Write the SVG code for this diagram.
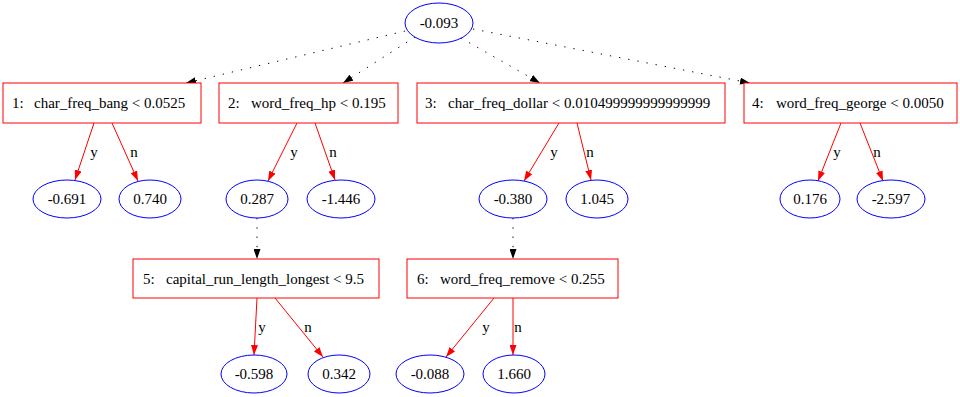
<svg xmlns="http://www.w3.org/2000/svg" width="960" height="397" viewBox="0 0 960 397">
<style>
text{font-family:"Liberation Serif","Times New Roman",serif;font-size:15px;fill:#000}
.box{fill:#fff;stroke:#ff0000;stroke-width:1}
.leaf{fill:#fff;stroke:#0000ff;stroke-width:1}
.c{text-anchor:middle}
.e{fill:none;stroke:#ff0000;stroke-width:1}
.d{fill:none;stroke:#000;stroke-width:1;stroke-dasharray:1.3,8}
</style>
<defs>
<marker id="ar" markerUnits="userSpaceOnUse" markerWidth="10" markerHeight="7" refX="10" refY="3.5" orient="auto"><path d="M0,0 L10,3.5 L0,7 z" fill="#ff0000"/></marker>
<marker id="ab" markerUnits="userSpaceOnUse" markerWidth="10" markerHeight="7" refX="10" refY="3.5" orient="auto"><path d="M0,0 L10,3.5 L0,7 z" fill="#000"/></marker>
</defs>
<rect width="960" height="397" fill="#fff"/>
<g id="connectors">
<line class="d" x1="405" y1="31" x2="186" y2="83" marker-end="url(#ab)"/>
<line class="d" x1="415" y1="37" x2="343" y2="83" marker-end="url(#ab)"/>
<line class="d" x1="461" y1="38" x2="540" y2="83" marker-end="url(#ab)"/>
<line class="d" x1="473" y1="29" x2="750" y2="83" marker-end="url(#ab)"/>
<line class="d" x1="257" y1="218" x2="257" y2="259" marker-end="url(#ab)"/>
<line class="d" x1="513" y1="218" x2="513" y2="259" marker-end="url(#ab)"/>
<line class="e" x1="94" y1="123" x2="75" y2="180" marker-end="url(#ar)"/>
<line class="e" x1="112" y1="123" x2="138" y2="181" marker-end="url(#ar)"/>
<line class="e" x1="297" y1="123" x2="268" y2="181" marker-end="url(#ar)"/>
<line class="e" x1="315" y1="123" x2="335" y2="180" marker-end="url(#ar)"/>
<line class="e" x1="559" y1="123" x2="524" y2="181" marker-end="url(#ar)"/>
<line class="e" x1="577" y1="123" x2="591" y2="180" marker-end="url(#ar)"/>
<line class="e" x1="841" y1="123" x2="818" y2="181" marker-end="url(#ar)"/>
<line class="e" x1="860" y1="123" x2="883" y2="181" marker-end="url(#ar)"/>
<line class="e" x1="257" y1="298" x2="254" y2="355" marker-end="url(#ar)"/>
<line class="e" x1="275" y1="298" x2="323" y2="357" marker-end="url(#ar)"/>
<line class="e" x1="494" y1="298" x2="446" y2="357" marker-end="url(#ar)"/>
<line class="e" x1="513" y1="298" x2="513" y2="355" marker-end="url(#ar)"/>
<text class="c" x="94" y="157">y</text>
<text class="c" x="134" y="157">n</text>
<text class="c" x="294" y="157">y</text>
<text class="c" x="333" y="157">n</text>
<text class="c" x="554" y="157">y</text>
<text class="c" x="590" y="157">n</text>
<text class="c" x="837" y="157">y</text>
<text class="c" x="877" y="157">n</text>
<text class="c" x="262" y="332">y</text>
<text class="c" x="308" y="332">n</text>
<text class="c" x="486" y="332">y</text>
<text class="c" x="518" y="332">n</text>
</g>
<g id="root"><ellipse class="leaf" cx="439" cy="23" rx="34" ry="20"/><text class="c" x="439" y="28">-0.093</text></g>
<g id="n1"><rect class="box" x="3" y="83" width="198" height="40"/><text x="12" y="108">1:<tspan x="34">char_freq_bang &lt; 0.0525</tspan></text></g>
<g id="n2"><rect class="box" x="219" y="83" width="179" height="40"/><text x="228" y="108">2:<tspan x="251">word_freq_hp &lt; 0.195</tspan></text></g>
<g id="n3"><rect class="box" x="417" y="83" width="308" height="40"/><text x="425" y="108">3:<tspan x="448">char_freq_dollar &lt; 0.010499999999999999</tspan></text></g>
<g id="n4"><rect class="box" x="744" y="83" width="213" height="40"/><text x="752" y="108">4:<tspan x="776">word_freq_george &lt; 0.0050</tspan></text></g>
<g id="n5"><rect class="box" x="133" y="259" width="246" height="39"/><text x="143" y="284">5:<tspan x="166">capital_run_length_longest &lt; 9.5</tspan></text></g>
<g id="n6"><rect class="box" x="407" y="259" width="211" height="39"/><text x="417" y="284">6:<tspan x="440">word_freq_remove &lt; 0.255</tspan></text></g>
<g id="l1"><ellipse class="leaf" cx="67" cy="199" rx="34" ry="19"/><text class="c" x="67" y="204">-0.691</text></g>
<g id="l2"><ellipse class="leaf" cx="150" cy="199" rx="31" ry="19"/><text class="c" x="150" y="204">0.740</text></g>
<g id="l3"><ellipse class="leaf" cx="257" cy="199" rx="31" ry="19"/><text class="c" x="257" y="204">0.287</text></g>
<g id="l4"><ellipse class="leaf" cx="341" cy="199" rx="34" ry="19"/><text class="c" x="341" y="204">-1.446</text></g>
<g id="l5"><ellipse class="leaf" cx="513" cy="199" rx="34" ry="19"/><text class="c" x="513" y="204">-0.380</text></g>
<g id="l6"><ellipse class="leaf" cx="597" cy="199" rx="31" ry="19"/><text class="c" x="597" y="204">1.045</text></g>
<g id="l7"><ellipse class="leaf" cx="810" cy="199" rx="30" ry="19"/><text class="c" x="810" y="204">0.176</text></g>
<g id="l8"><ellipse class="leaf" cx="891" cy="199" rx="34" ry="19"/><text class="c" x="891" y="204">-2.597</text></g>
<g id="l9"><ellipse class="leaf" cx="254" cy="374" rx="33" ry="19"/><text class="c" x="254" y="379">-0.598</text></g>
<g id="l10"><ellipse class="leaf" cx="339" cy="374" rx="31" ry="19"/><text class="c" x="339" y="379">0.342</text></g>
<g id="l11"><ellipse class="leaf" cx="430" cy="374" rx="34" ry="19"/><text class="c" x="430" y="379">-0.088</text></g>
<g id="l12"><ellipse class="leaf" cx="514" cy="374" rx="31" ry="19"/><text class="c" x="514" y="379">1.660</text></g>
</svg>
